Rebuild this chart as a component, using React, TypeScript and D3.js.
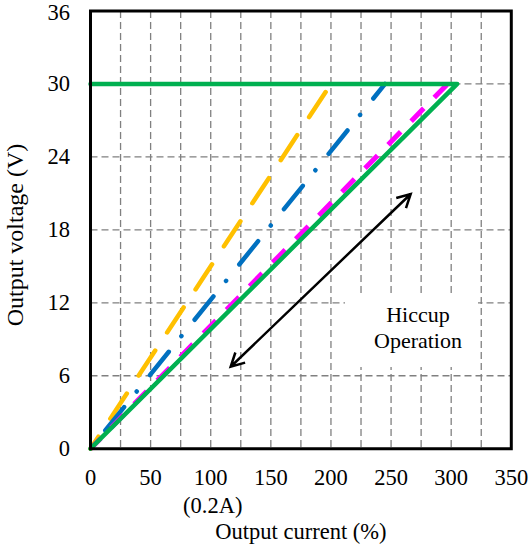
import React, { useRef, useEffect } from 'react';
import * as d3 from 'd3';

// tick values and grid
const currentTicks = [0, 50, 100, 150, 200, 250, 300, 350];
const voltageTicks = [0, 6, 12, 18, 24, 30, 36];
const currentGrid = [25, 50, 75, 100, 125, 150, 175, 200, 225, 250, 275, 300, 325];
const voltageGrid = [6, 12, 18, 24, 30];

// curves (output current %, output voltage V)
const orangeCurrent = [0, 200];
const orangeVoltage = [0, 30];
const blueCurrent = [0, 245];
const blueVoltage = [0, 30];
const magentaCurrent = [0, 297];
const magentaVoltage = [0, 30];
const greenCurrent = [0, 305, 0];
const greenVoltage = [30, 30, 0];

// hiccup arrow ends
const arrowCurrent = [116.6, 266.3];
const arrowVoltage = [6.74, 20.95];

const FONT = '"Liberation Serif", "Times New Roman", serif';

const App = () => {
  const chartRef = useRef(null);

  useEffect(() => {
    const width = 532;
    const height = 544;
    const left = 90.5;
    const right = 511.3;
    const top = 11;
    const bottom = 448.7;

    d3.select(chartRef.current).selectAll('*').remove();

    const svg = d3
      .select(chartRef.current)
      .append('svg')
      .attr('width', width)
      .attr('height', height)
      .style('position', 'absolute')
      .style('left', '0px')
      .style('top', '0px')
      .style('background', '#fff');

    const x = d3.scaleLinear().domain([0, 350]).range([left, right]);
    const y = d3.scaleLinear().domain([0, 36]).range([bottom, top]);

    // grid
    svg
      .append('g')
      .selectAll('line')
      .data(currentGrid)
      .join('line')
      .attr('x1', (d) => x(d))
      .attr('x2', (d) => x(d))
      .attr('y1', top)
      .attr('y2', bottom)
      .attr('stroke', '#808080')
      .attr('stroke-width', 1.3)
      .attr('stroke-dasharray', '7,4');

    svg
      .append('g')
      .selectAll('line')
      .data(voltageGrid)
      .join('line')
      .attr('x1', left)
      .attr('x2', right)
      .attr('y1', (d) => y(d))
      .attr('y2', (d) => y(d))
      .attr('stroke', '#808080')
      .attr('stroke-width', 1.3)
      .attr('stroke-dasharray', '7,4');

    // white box behind annotation text
    svg
      .append('rect')
      .attr('x', 345)
      .attr('y', 293)
      .attr('width', 133)
      .attr('height', 74)
      .attr('fill', '#fff');

    const line = d3
      .line()
      .x((d) => x(d[0]))
      .y((d) => y(d[1]));

    const curves = [
      { cur: orangeCurrent, volt: orangeVoltage, color: '#FFC000', w: 4.5, dash: '30,21.6', off: 15.6, cap: 'round' },
      { cur: blueCurrent, volt: blueVoltage, color: '#0070C0', w: 4.5, dash: '30,20,0.1,21', off: 47.6, cap: 'round' },
      { cur: magentaCurrent, volt: magentaVoltage, color: '#FF00FF', w: 5, dash: '18,15', off: 3.6, cap: 'butt' },
      { cur: greenCurrent, volt: greenVoltage, color: '#00B050', w: 4.5, dash: null, off: 0, cap: 'round' },
    ];

    curves.forEach((c) => {
      svg
        .append('path')
        .datum(c.cur.map((v, i) => [v, c.volt[i]]))
        .attr('fill', 'none')
        .attr('stroke', c.color)
        .attr('stroke-width', c.w)
        .attr('stroke-linecap', c.cap)
        .attr('stroke-linejoin', 'round')
        .attr('stroke-dasharray', c.dash)
        .attr('stroke-dashoffset', c.off)
        .attr('d', line);
    });

    // double headed arrow
    const p0 = [x(arrowCurrent[0]), y(arrowVoltage[0])];
    const p1 = [x(arrowCurrent[1]), y(arrowVoltage[1])];
    const ang = Math.atan2(p1[1] - p0[1], p1[0] - p0[0]);
    const headLen = 15;
    const spread = (28 * Math.PI) / 180;
    const head = (tip, a) =>
      `M${tip[0] + headLen * Math.cos(a + spread)},${tip[1] + headLen * Math.sin(a + spread)}L${tip[0]},${tip[1]}L${tip[0] + headLen * Math.cos(a - spread)},${tip[1] + headLen * Math.sin(a - spread)}`;
    svg
      .append('path')
      .attr('d', `M${p0[0]},${p0[1]}L${p1[0]},${p1[1]}` + head(p1, ang + Math.PI) + head(p0, ang))
      .attr('fill', 'none')
      .attr('stroke', '#000')
      .attr('stroke-width', 2.5)
      .attr('stroke-linejoin', 'miter');

    // frame
    svg
      .append('path')
      .attr('d', `M${left},${bottom}V${top}H${right}V${bottom}Z`)
      .attr('fill', 'none')
      .attr('stroke', '#000')
      .attr('stroke-width', 3);

    // tick labels
    svg
      .append('g')
      .selectAll('text')
      .data(currentTicks)
      .join('text')
      .attr('x', (d) => x(d))
      .attr('y', 485)
      .attr('text-anchor', 'middle')
      .attr('font-family', FONT)
      .attr('font-size', 22.5)
      .text((d) => d);

    svg
      .append('g')
      .selectAll('text')
      .data(voltageTicks)
      .join('text')
      .attr('x', 70)
      .attr('y', (d) => Math.max(y(d) + 7.3, 19.5))
      .attr('text-anchor', 'end')
      .attr('font-family', FONT)
      .attr('font-size', 22.5)
      .text((d) => d);

    svg
      .append('text')
      .attr('x', x(100) + 2)
      .attr('y', 513)
      .attr('text-anchor', 'middle')
      .attr('font-family', FONT)
      .attr('font-size', 22.5)
      .text('(0.2A)');

    // axis titles
    svg
      .append('text')
      .attr('x', (left + right) / 2)
      .attr('y', 539)
      .attr('text-anchor', 'middle')
      .attr('font-family', FONT)
      .attr('font-size', 22.5)
      .text('Output current (%)');

    svg
      .append('text')
      .attr('transform', `translate(23, 235) rotate(-90)`)
      .attr('text-anchor', 'middle')
      .attr('font-family', FONT)
      .attr('font-size', 24)
      .text('Output voltage (V)');

    // annotation
    svg
      .append('text')
      .attr('x', 418)
      .attr('y', 321.7)
      .attr('text-anchor', 'middle')
      .attr('font-family', FONT)
      .attr('font-size', 22)
      .text('Hiccup');
    svg
      .append('text')
      .attr('x', 418)
      .attr('y', 348.3)
      .attr('text-anchor', 'middle')
      .attr('font-family', FONT)
      .attr('font-size', 22)
      .text('Operation');
  }, []);

  return <div ref={chartRef}></div>;
};

export default App;
